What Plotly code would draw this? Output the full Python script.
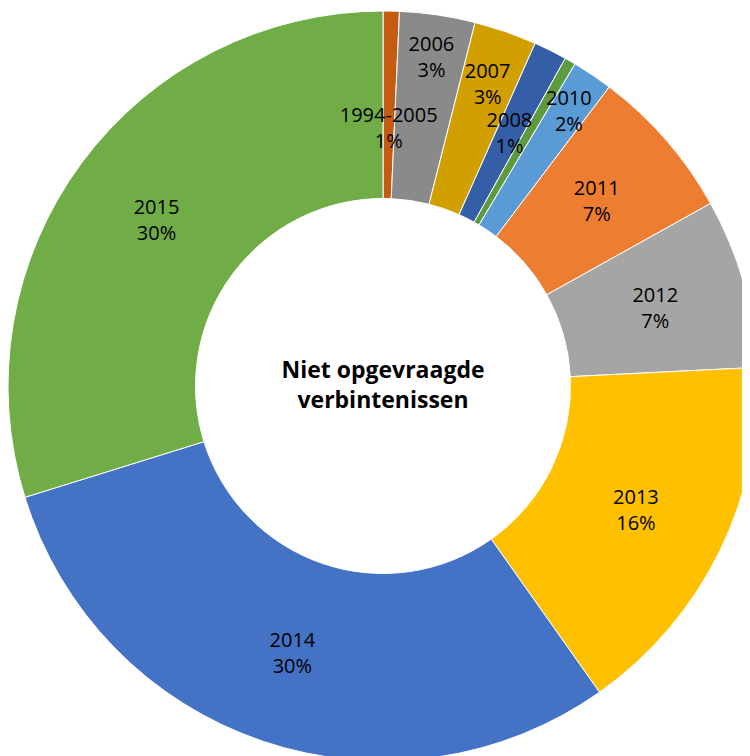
import plotly.graph_objects as go

# share of "niet opgevraagde verbintenissen" by year of origin (%)
years = ["1994-2005", "2006", "2007", "2008", "2009", "2010",
         "2011", "2012", "2013", "2014", "2015"]
shares = [0.7, 3.25, 2.7, 1.43, 0.48, 1.75, 6.6, 7.3, 16.0, 30.0, 29.8]
colors = ["#C55A11", "#8A8A8A", "#D29F00", "#345EA6", "#5E9A3E", "#5B9BD5",
          "#ED7D31", "#A5A5A5", "#FFC000", "#4472C4", "#70AD47"]

# radius (px) of the invisible ring that carries a slice's data label;
# years not listed keep their label on the donut itself
label_ring = {"1994-2005": 264, "2006": 343, "2007": 330, "2008": 292,
              "2010": 343, "2011": 292, "2012": 292}

W, H = 750, 756

total = sum(shares)
label_txt = []
for y, s in zip(years, shares):
    pct = int(s / total * 100 + 0.5)
    # the 0% label of the tiny 2009 slice is not shown
    label_txt.append(f"{y}<br>{pct}%" if pct > 0 else "")

font = dict(family="Open Sans", size=20, color="black")


def ring_domain(radius):
    return dict(x=[0.5 - radius / W, 0.5 + radius / W],
                y=[0.5 - radius / H, 0.5 + radius / H])


fig = go.Figure()

# the donut itself
fig.add_trace(go.Pie(
    labels=years, values=shares,
    text=["" if y in label_ring else t for y, t in zip(years, label_txt)],
    textinfo="text",
    textposition="inside", insidetextorientation="horizontal",
    sort=False, direction="clockwise", rotation=0,
    hole=0.5,
    marker=dict(colors=colors, line=dict(color="white", width=1)),
    textfont=font,
    title=dict(text="<b>Niet opgevraagde<br>verbintenissen</b>",
               position="middle center",
               font=dict(family="Open Sans", size=23, color="black")),
    showlegend=False,
    domain=dict(x=[0, 1], y=[0, 1]),
    hoverinfo="label+percent",
))

# thin invisible rings that only carry the remaining data labels
for radius in sorted(set(label_ring.values())):
    txt = [t if label_ring.get(y) == radius else ""
           for y, t in zip(years, label_txt)]
    fig.add_trace(go.Pie(
        labels=years, values=shares,
        text=txt, textinfo="text",
        textposition="inside", insidetextorientation="horizontal",
        sort=False, direction="clockwise", rotation=0,
        hole=0.94,
        marker=dict(colors=["rgba(0,0,0,0)"] * len(years),
                    line=dict(width=0)),
        textfont=font,
        showlegend=False,
        hoverinfo="skip",
        domain=ring_domain(radius),
    ))

fig.update_layout(
    width=W, height=H,
    margin=dict(l=0, r=0, t=0, b=0),
    paper_bgcolor="white",
    uniformtext=dict(minsize=20, mode="show"),
)

fig.write_html("out.html")
